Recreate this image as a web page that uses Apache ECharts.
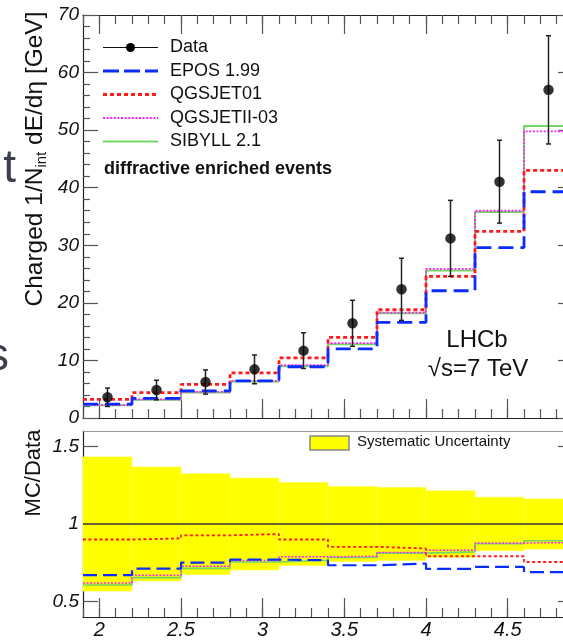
<!DOCTYPE html>
<html><head><meta charset="utf-8">
<script src="https://cdn.jsdelivr.net/npm/echarts@6.0.0/dist/echarts.min.js"></script>
<style>html,body{margin:0;padding:0;background:#fff;overflow:hidden;width:563px;height:640px}
#c{width:600px;height:640px}</style></head>
<body><div id="c"></div>
<script>
// ---- data ----
const binEdges   = [1.9, 2.2, 2.5, 2.8, 3.1, 3.4, 3.7, 4.0, 4.3, 4.6, 4.9];
const binCenters = [2.05, 2.35, 2.65, 2.95, 3.25, 3.55, 3.85, 4.15, 4.45, 4.75];
const dataVal = [3.6, 4.86, 6.25, 8.45, 11.7, 16.45, 22.35, 31.2, 41.05, 57.0];
const dataErr = [1.6, 1.7, 2.1, 2.5, 3.1, 4.0, 5.4, 6.6, 7.2, 9.4];
const epos   = [2.4, 3.4, 4.7, 6.45, 8.9, 12.0, 16.6, 22.1, 29.6, 39.3];
const qgs01  = [3.25, 4.4, 5.85, 7.85, 10.45, 14.0, 18.8, 24.6, 32.4, 43.0];
const qgsII  = [2.25, 3.25, 4.55, 6.45, 9.2, 13.0, 18.3, 25.9, 36.0, 49.8];
const sibyll = [2.2, 3.15, 4.45, 6.35, 9.0, 12.8, 18.2, 25.6, 35.8, 50.7];
const ratioEpos   = [0.67, 0.712, 0.751, 0.77, 0.766, 0.734, 0.745, 0.71, 0.723, 0.69];
const ratioQgs01  = [0.90, 0.907, 0.927, 0.935, 0.90, 0.853, 0.842, 0.792, 0.792, 0.755];
const ratioQgsII  = [0.62, 0.669, 0.727, 0.765, 0.788, 0.792, 0.816, 0.831, 0.878, 0.879];
const ratioSibyll = [0.606, 0.654, 0.714, 0.755, 0.766, 0.784, 0.812, 0.82, 0.873, 0.892];
const sysHi = [1.433, 1.368, 1.325, 1.297, 1.268, 1.242, 1.236, 1.214, 1.173, 1.162];
const sysLo = [0.567, 0.632, 0.675, 0.703, 0.732, 0.758, 0.764, 0.786, 0.827, 0.838];
const xMajorTicks = [2, 2.5, 3, 3.5, 4, 4.5];
const ratioTicks = [0.5, 1, 1.5];
const xMinorTicks = [];
for (let k = 19; k <= 49; k++) xMinorTicks.push(k / 10);

// ---- helpers ----
const FONT = '"Liberation Sans", Arial, Helvetica, sans-serif';
const axisCol = '#222', tickCol = '#555';
function hist(vals) {
  const pts = vals.map((v, i) => [binEdges[i], v]);
  pts.push([binEdges[binEdges.length - 1], vals[vals.length - 1]]);
  return pts;
}
function stepSeries(name, vals, color, width, dash, xi, yi, z) {
  return { type: 'line', name, data: hist(vals), step: 'end', xAxisIndex: xi, yAxisIndex: yi,
    symbol: 'none', silent: true, z, lineStyle: { color, width, type: dash }, animation: false };
}
function xAx(grid, pos, major, opts) {
  return Object.assign({
    gridIndex: grid, type: 'value', min: 1.9, max: 4.9, position: pos,
    axisLine: { show: major, onZero: false, lineStyle: { color: axisCol, width: 1.2 } },
    axisTick: { show: true, inside: true, length: major ? 19 : 9,
      customValues: major ? xMajorTicks : xMinorTicks, lineStyle: { color: tickCol, width: 1.2 } },
    axisLabel: { show: false }, splitLine: { show: false }
  }, opts || {});
}

const xAxes = [
  xAx(0, 'bottom', true), xAx(0, 'bottom', false), xAx(0, 'top', true), xAx(0, 'top', false),
  xAx(1, 'bottom', true, { axisLabel: { show: true, customValues: xMajorTicks, fontSize: 20,
    fontStyle: 'italic', fontFamily: FONT, color: '#111', margin: 3 } }),
  xAx(1, 'bottom', false),
  { gridIndex: 1, type: 'value', min: 1.9, max: 4.9, position: 'top',
    axisLine: { show: true, onZero: false, lineStyle: { color: '#999', width: 1 } },
    axisTick: { show: false }, axisLabel: { show: false }, splitLine: { show: false } }
];
const topY = (pos, labels) => ({
  gridIndex: 0, type: 'value', min: 0, max: 70, interval: 10, position: pos,
  axisLine: { show: true, onZero: false, lineStyle: { color: axisCol, width: 1.2 } },
  axisTick: { show: true, inside: true, length: 15, lineStyle: { color: tickCol, width: 1.2 } },
  minorTick: { show: true, splitNumber: 5, length: 7, lineStyle: { color: tickCol, width: 1.2 } },
  axisLabel: { show: labels, fontSize: 19, fontStyle: 'italic', fontFamily: FONT, color: '#111', margin: 4 },
  splitLine: { show: false }, minorSplitLine: { show: false }
});
const ratioY = (pos, labels) => ({
  gridIndex: 1, type: 'value', min: 0.4, max: 1.6, position: pos,
  axisLine: { show: true, onZero: false, lineStyle: { color: axisCol, width: 1.2 } },
  axisTick: { show: true, inside: true, length: 15, customValues: ratioTicks, lineStyle: { color: tickCol, width: 1.2 } },
  axisLabel: { show: labels, customValues: ratioTicks, fontSize: 19, fontStyle: 'italic', fontFamily: FONT, color: '#111', margin: 4 },
  splitLine: { show: false }
});
const yAxes = [topY('left', true), topY('right', false), ratioY('left', true), ratioY('right', false)];

const BLUE = '#0a2cff', RED = '#ff1a1a', MAG = '#ff22ff', GREEN = '#72d665';

const series = [
  stepSeries('SIBYLL 2.1', sibyll, GREEN, 2, 'solid', 0, 0, 3),
  stepSeries('QGSJETII-03', qgsII, MAG, 1.8, [2, 1.6], 0, 0, 4),
  stepSeries('QGSJET01', qgs01, RED, 2.8, [4, 3], 0, 0, 5),
  stepSeries('EPOS 1.99', epos, BLUE, 2.8, [15, 7], 0, 0, 6),
  { type: 'custom', name: 'err', xAxisIndex: 0, yAxisIndex: 0, z: 8, silent: true, animation: false,
    data: binCenters.map((x, i) => [x, dataVal[i], dataErr[i]]),
    encode: { x: 0, y: 1 },
    renderItem: (params, api) => {
      const x = api.value(0), y = api.value(1), e = api.value(2);
      const t = api.coord([x, y + e]), b = api.coord([x, y - e]);
      const st = { stroke: '#222', lineWidth: 1.5 };
      return { type: 'group', children: [
        { type: 'line', shape: { x1: t[0], y1: t[1], x2: b[0], y2: b[1] }, style: st },
        { type: 'line', shape: { x1: t[0] - 2.5, y1: t[1], x2: t[0] + 2.5, y2: t[1] }, style: st },
        { type: 'line', shape: { x1: b[0] - 2.5, y1: b[1], x2: b[0] + 2.5, y2: b[1] }, style: st }
      ]};
    } },
  { type: 'scatter', name: 'Data', xAxisIndex: 0, yAxisIndex: 0, z: 9, silent: true, animation: false,
    symbol: 'circle', symbolSize: 10.5, itemStyle: { color: '#000' },
    data: binCenters.map((x, i) => [x, dataVal[i]]) },
  // ratio panel
  { type: 'custom', name: 'Systematic Uncertainty', xAxisIndex: 4, yAxisIndex: 2, z: 1, silent: true, animation: false,
    data: sysHi.map((h, i) => [binEdges[i], binEdges[i + 1], sysLo[i], h]),
    encode: { x: [0, 1], y: [2, 3] },
    renderItem: (params, api) => {
      const p1 = api.coord([api.value(0), api.value(3)]);
      const p2 = api.coord([api.value(1), api.value(2)]);
      return { type: 'rect', shape: { x: p1[0], y: p1[1], width: p2[0] - p1[0], height: p2[1] - p1[1] },
        style: { fill: '#ffff00', stroke: '#ffff40', lineWidth: 0.6 } };
    },
    markLine: { silent: true, symbol: 'none', label: { show: false }, animation: false,
      lineStyle: { color: '#333', width: 1.5, type: 'solid' }, data: [{ yAxis: 1 }] } },
  stepSeries('r SIBYLL', ratioSibyll, GREEN, 1.6, 'solid', 4, 2, 3),
  stepSeries('r QGSJETII', ratioQgsII, MAG, 1.5, [2, 1.5], 4, 2, 4),
  stepSeries('r QGSJET01', ratioQgs01, RED, 1.8, [3, 2.5], 4, 2, 5),
  stepSeries('r EPOS', ratioEpos, BLUE, 2.2, [14, 6], 4, 2, 6)
];

// ---- legend / annotations (graphic) ----
const legX0 = 103, legX1 = 158, legTx = 170;
const legRows = [
  { y: 47.5, text: 'Data' }, { y: 71, text: 'EPOS 1.99' }, { y: 94.5, text: 'QGSJET01' },
  { y: 118, text: 'QGSJETII-03' }, { y: 141.5, text: 'SIBYLL 2.1' }
];
const legStyles = [
  { stroke: '#111', lineWidth: 1.2 },
  { stroke: BLUE, lineWidth: 2.8, lineDash: [16, 5] },
  { stroke: RED, lineWidth: 2.8, lineDash: [4, 3] },
  { stroke: MAG, lineWidth: 1.8, lineDash: [2, 1.6] },
  { stroke: GREEN, lineWidth: 2 }
];
const graphic = [];
legRows.forEach((r, i) => {
  graphic.push({ type: 'line', silent: true, shape: { x1: legX0, y1: r.y, x2: legX1, y2: r.y }, style: legStyles[i] });
  graphic.push({ type: 'text', silent: true, x: legTx, y: r.y,
    style: { text: r.text, fill: '#111', font: '18px ' + FONT, verticalAlign: 'middle', align: 'left' } });
});
graphic.push({ type: 'circle', silent: true, shape: { cx: 130.5, cy: 47.5, r: 4.5 }, style: { fill: '#000' } });
graphic.push({ type: 'text', silent: true, x: 104, y: 169,
  style: { text: 'diffractive enriched events', fill: '#111', font: 'bold 18px ' + FONT, verticalAlign: 'middle' } });
graphic.push({ type: 'text', silent: true, x: 477, y: 340,
  style: { text: 'LHCb', fill: '#111', font: '24px ' + FONT, align: 'center', verticalAlign: 'middle' } });
graphic.push({ type: 'text', silent: true, x: 478, y: 369,
  style: { text: '√s=7 TeV', fill: '#111', font: '24px ' + FONT, align: 'center', verticalAlign: 'middle' } });
// axis titles
graphic.push({ type: 'text', silent: true, x: 35, y: 159, rotation: Math.PI / 2,
  style: { text: 'Charged 1/N{sub|int} dE/dη [GeV]', fill: '#111', fontSize: 24.5, fontFamily: FONT,
    align: 'center', verticalAlign: 'middle',
    rich: { sub: { fontSize: 15, fontFamily: FONT, fill: '#111', padding: [14, 0, 0, 0] } } } });
graphic.push({ type: 'text', silent: true, x: 34, y: 473, rotation: Math.PI / 2,
  style: { text: 'MC/Data', fill: '#111', font: '22px ' + FONT, align: 'center', verticalAlign: 'middle' } });
// systematic legend
graphic.push({ type: 'rect', silent: true, shape: { x: 310, y: 436, width: 39, height: 14 },
  style: { fill: '#ffff00', stroke: '#888', lineWidth: 1.5 } });
graphic.push({ type: 'text', silent: true, x: 357, y: 442,
  style: { text: 'Systematic Uncertainty', fill: '#111', font: '15px ' + FONT, verticalAlign: 'middle' } });
// cropped slide letters at left edge
graphic.push({ type: 'text', silent: true, x: 16, y: 192,
  style: { text: 't', fill: '#3a3f4a', font: '46px ' + FONT, align: 'right', verticalAlign: 'bottom' } });
graphic.push({ type: 'text', silent: true, x: 9, y: 380,
  style: { text: 's', fill: '#3a3f4a', font: '46px ' + FONT, align: 'right', verticalAlign: 'bottom' } });

const chart = echarts.init(document.getElementById('c'), null, { renderer: 'canvas' });
chart.setOption({
  animation: false,
  backgroundColor: '#fff',
  textStyle: { fontFamily: FONT },
  grid: [
    { left: 83, top: 15, width: 490, height: 403, containLabel: false },
    { left: 83, top: 431, width: 490, height: 186, containLabel: false }
  ],
  xAxis: xAxes,
  yAxis: yAxes,
  series,
  graphic
});
</script></body></html>
